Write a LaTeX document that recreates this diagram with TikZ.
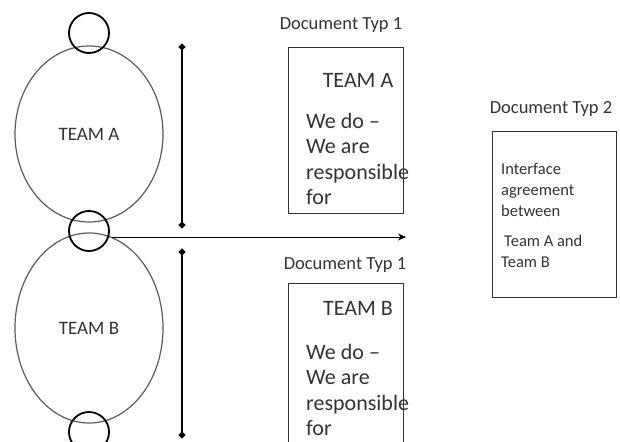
\documentclass[tikz,border=0pt]{standalone}
\usepackage{fontspec}
\setmainfont{Carlito}
\usetikzlibrary{shapes.geometric,arrows.meta}
\definecolor{ink}{HTML}{333333}
\definecolor{rim}{HTML}{5A5A5A}
\begin{document}
\begin{tikzpicture}[x=1pt,y=-1pt,
  team/.style={ellipse, draw=rim, line width=1.2pt, minimum width=148pt,
    inner sep=0pt, text=ink, font=\fontsize{19}{23}\selectfont},
  joint/.style={circle, draw=black, line width=1.8pt, minimum size=40pt, inner sep=0pt},
  span/.style={line width=2.6pt, {Circle[length=6pt]}-{Circle[length=6pt]}},
  handover/.style={line width=0.9pt, -{Stealth[length=8pt,width=7pt]}},
  doc/.style={draw=ink, line width=1.3pt, inner sep=0pt, anchor=north west},
  title/.style={text=ink, font=\fontsize{18.5}{22}\selectfont, inner sep=0pt},
  heading/.style={text=ink, font=\fontsize{22}{27}\selectfont, inner sep=0pt},
  body/.style={text=ink, font=\fontsize{22}{25.5}\selectfont, align=left,
    inner sep=0pt, anchor=north west},
  small/.style={text=ink, font=\fontsize{16.5}{21}\selectfont, align=left,
    inner sep=0pt, anchor=north west},
]
\useasboundingbox (0,0) rectangle (620,441);

% the two teams
\node[team, minimum height=176pt] (ea) at (89,134) {TEAM A};
\node[team, minimum height=190pt] (eb) at (89,328) {TEAM B};

% joints at the poles of the teams
\node[joint] (jtop) at (89,33) {};
\node[joint] (jmid) at (89,231) {};
\node[joint] (jbot) at (89,432) {};

% extent markers beside the teams
\coordinate (va1) at (182,44);
\coordinate (va2) at (182,228);
\coordinate (vb1) at (182,249);
\coordinate (vb2) at (182,438);
\draw[span] (va1) -- (va2);
\draw[span] (vb1) -- (vb2);

% hand-over arrow from the interface
\coordinate (hend) at (406,237);
\draw[handover] (jmid.east) ++(2,6) coordinate (hstart) -- (hstart -| hend);

% document type 1, team A
\node[title] (ta) at (341,25) {Document Typ 1};
\node[doc, minimum width=115pt, minimum height=166pt] (da) at (288,47) {};
\node[heading] (ha) at (358,80) {TEAM A};
\node[body] (ba) at (306,113) {We do --\\We are\\responsible\\for};

% document type 1, team B
\node[title] (tb) at (345,265) {Document Typ 1};
\node[doc, minimum width=115pt, minimum height=180pt] (db) at (288,283) {};
\node[heading] (hb) at (358,308) {TEAM B};
\node[body] (bb) at (306,344) {We do --\\We are\\responsible\\for};

% document type 2, interface agreement
\node[title] (t2) at (551,109) {Document Typ 2};
\node[doc, minimum width=124pt, minimum height=166pt] (d2) at (492,131) {};
\node[small] (b2) at (501,163) {Interface\\agreement\\between\\[9pt]\hspace{3pt}Team A and\\Team B};
\end{tikzpicture}
\end{document}
